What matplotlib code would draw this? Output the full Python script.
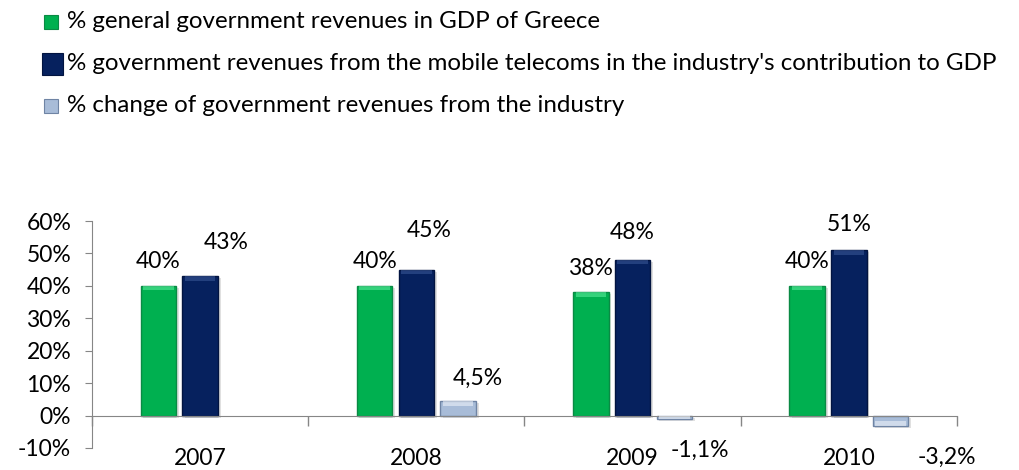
import matplotlib
matplotlib.use('agg')
from matplotlib import pyplot as plt
from matplotlib.patches import Rectangle
import numpy as np

years = ['2007', '2008', '2009', '2010']
gov_rev_gdp = [40, 40, 38, 40]            # % general government revenues in GDP of Greece
telecom_rev_share = [43, 45, 48, 51]      # % government revenues from mobile telecoms
telecom_rev_change = [np.nan, 4.5, -1.1, -3.2]  # % change of revenues from the industry

series_names = ['% general government revenues in GDP of Greece',
                "% government revenues from the mobile telecoms in the industry's contribution to GDP",
                '% change of government revenues from the industry']

# (face, edge, top highlight) for the pseudo-3D bars
styles = [('#00b050', '#0a8a44', '#5ff0a0'),
          ('#06215e', '#021440', '#3c5a9a'),
          ('#a8bcd8', '#6f84a4', '#f2f6fc')]

plt.rcParams['font.family'] = ['Lato', 'DejaVu Sans']

fig = plt.figure(figsize=(10.2, 4.7), dpi=100)
ax = fig.add_axes([92/1020, 1 - 448/470, 865/1020, 227/470])

x = np.arange(len(years))
width = 0.165
step = 0.193
all_series = [gov_rev_gdp, telecom_rev_share, telecom_rev_change]

for k, (vals, (face, edge, hi)) in enumerate(zip(all_series, styles)):
    vals = np.asarray(vals, dtype=float)
    pos = x + (k - 1) * step
    # soft drop shadow
    ax.bar(pos + 0.012, vals, width, bottom=-0.6, color='#000000', alpha=0.12, zorder=1)
    ax.bar(pos, vals, width, color=face, edgecolor=edge, linewidth=1, zorder=2)
    # bevelled top edge
    cap = np.where(vals >= 0, 1.4, -1.4)
    ax.bar(pos, cap, width * 0.86, bottom=vals - cap, color=hi, alpha=0.55,
           linewidth=0, zorder=3)

# value labels, nudged the way the 3D chart placed them (dx in axis units, dy in %)
label_nudge = [
    [(0.0, 7.5), (0.0, 7.5), (0.0, 7.5), (0.0, 7.5)],
    [(0.12, 10.5), (0.06, 12.0), (0.0, 8.3), (0.0, 8.0)],
    [None, (0.09, 7.0), (0.12, -9.7), (0.26, -9.8)],
]
for k, vals in enumerate(all_series):
    for i, v in enumerate(vals):
        if np.isnan(v):
            continue
        dx, dy = label_nudge[k][i]
        txt = '{:.0f}%'.format(v) if k < 2 else '{:.1f}%'.format(v).replace('.', ',')
        ax.text(x[i] + (k - 1) * step + dx, v + dy, txt, ha='center', va='center',
                fontsize=16.5, color='#000000', zorder=5)

ax.set_xlim(-0.5, len(years) - 0.5)
ax.set_ylim(-10, 60)
ax.set_yticks(np.arange(-10, 61, 10))
ax.set_yticklabels(['{:d}%'.format(t) for t in range(-10, 61, 10)])

for side in ['top', 'right']:
    ax.spines[side].set_visible(False)
ax.spines['left'].set_color('#868686')
ax.spines['bottom'].set_color('#868686')
ax.spines['bottom'].set_position(('data', 0))

ax.set_xticks(x)
ax.set_xticklabels(years)
ax.set_xticks(np.arange(-0.5, len(years), 1.0), minor=True)
ax.tick_params(axis='x', which='major', length=0, pad=23, labelsize=16.5)
ax.tick_params(axis='x', which='minor', length=7, color='#868686', width=1)
ax.tick_params(axis='y', length=5, color='#868686', labelsize=16.5, pad=10)

# legend drawn in figure pixels
rows_y = [22, 64, 106]
marker_size = [(14, 14), (21, 22), (14, 14)]
for name, (face, edge, hi), y, (w, h) in zip(series_names, styles, rows_y, marker_size):
    cx = 51 if w < 20 else 52
    fig.patches.append(Rectangle(((cx - w / 2) / 1020, 1 - (y + h / 2) / 470), w / 1020, h / 470,
                                 transform=fig.transFigure, facecolor=face, edgecolor=edge,
                                 linewidth=0.8))
    fig.text(67 / 1020, 1 - y / 470, name, ha='left', va='center', fontsize=17.4)

plt.savefig('out.png', dpi=100)
plt.close()
